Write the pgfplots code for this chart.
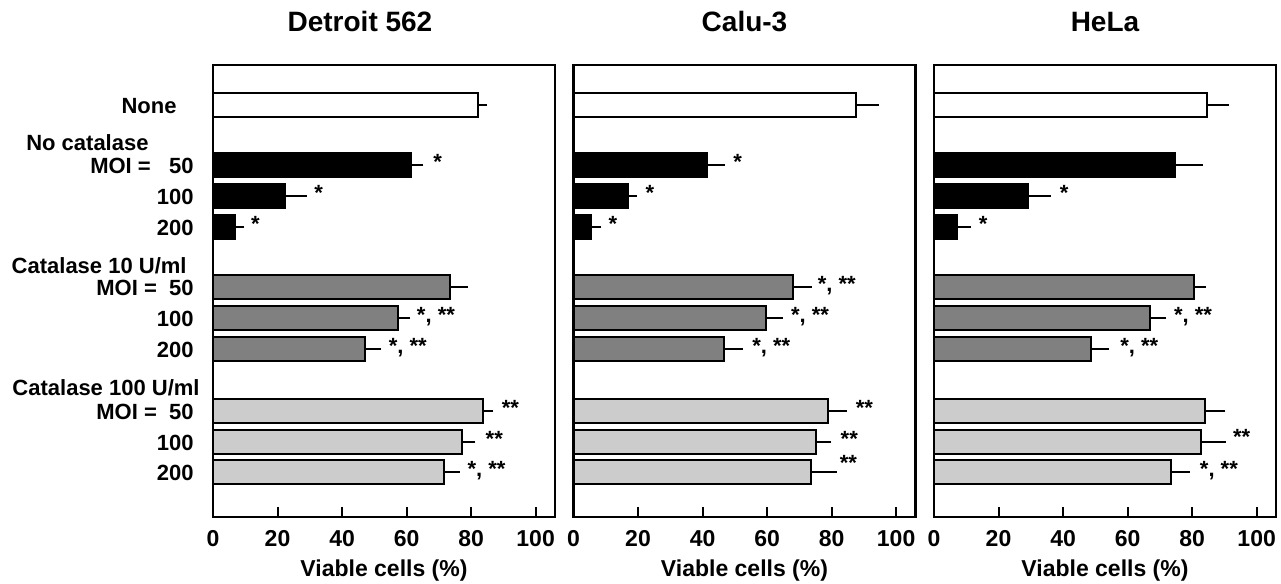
\documentclass[border=0pt]{standalone}
\usepackage{fontspec}
\setmainfont{Liberation Sans}
\usepackage{pgfplots}
\pgfplotsset{compat=1.18}

\definecolor{dkgray}{HTML}{808080}
\definecolor{ltgray}{HTML}{CCCCCC}

\pgfplotsset{
  panel/.style={
    scale only axis, width=171pt, height=226pt,
    anchor=north west,
    bar width=24, bar shift=0pt,
    xmin=0, xmax=106, ymin=65, ymax=517, y dir=reverse,
    axis line style={line width=1.25pt},
    xtick={0,20,...,100}, xtick pos=bottom, tick align=inside,
    major tick length=5pt, xtick style={line width=1pt, black},
    ytick=\empty,
    /pgf/number format/assume math mode=true,
    xticklabel style={font=\bfseries\fontsize{11.5}{13}\selectfont, anchor=base, yshift=-14.5pt, inner sep=0pt},
    xlabel={Viable cells (\%)},
    xlabel style={font=\bfseries\fontsize{11.5}{13}\selectfont, at={(axis description cs:0.5,0)}, anchor=base, yshift=-29.5pt, inner sep=0pt},
    title style={font=\bfseries\fontsize{14}{16}\selectfont, at={(axis description cs:0.5,1)}, anchor=base, yshift=11pt, inner sep=0pt},
    clip=false,
  },
  bar/.style={xbar, draw=black, line width=1pt,
    error bars/x dir=plus, error bars/x explicit, error bars/error mark=none,
    error bars/error bar style={line width=1pt, black}},
  star/.style={only marks, mark=none, nodes near coords, point meta=explicit symbolic,
    every node near coord/.append style={anchor=base west, inner sep=0pt,
      font=\bfseries\fontsize{11}{13}\selectfont}},
}

\begin{document}
\begin{tikzpicture}
\useasboundingbox (0,0) rectangle (640.5pt,-292pt);

% Detroit 562
\begin{axis}[panel, at={(106.5pt,-32.5pt)}, title={Detroit 562},
    title style={xshift=-12pt},
    ytick={105,142,165,196,227,265,287,318,349,387,411,442,472},
    yticklabels={None\hspace*{8.5pt}, No catalase\hspace*{22.5pt}, MOI =\ \ \ 50, 100, 200,
      Catalase 10 U/ml\hspace*{3.5pt}, MOI =\ \ 50, 100, 200,
      Catalase 100 U/ml\hspace*{-3pt}, MOI =\ \ 50, 100, 200},
    ytick style={draw=none},
    yticklabel style={anchor=base east, inner sep=0pt, xshift=-9.5pt, yshift=-4pt,
      font=\bfseries\fontsize{11}{13}\selectfont}]
\addplot[bar, fill=white] coordinates {(82,105) +- (3,0)};
\addplot[bar, fill=black] coordinates {(61.5,165) +- (3.7,0) (22.3,196) +- (6.7,0) (6.7,227) +- (3,0)};
\addplot[bar, fill=dkgray] coordinates {(73.5,287) +- (5.6,0) (57.2,318) +- (4,0) (47.2,349) +- (5,0)};
\addplot[bar, fill=ltgray] coordinates {(83.8,411) +- (3,0) (77.1,442) +- (4.2,0) (71.5,472) +- (5,0)};
\addplot[star] coordinates {(68.2,169) [*] (31.3,200) [*] (11.7,231) [*]
  (63.1,322) [{*, **}] (54.4,353) [{*, **}]
  (89.4,415) [**] (84.4,446) [**] (78.8,476) [{*, **}]};
\end{axis}

% Calu-3
\begin{axis}[panel, at={(286.75pt,-32.5pt)}, title={Calu-3}]
\addplot[bar, fill=white] coordinates {(87.6,105) +- (7,0)};
\addplot[bar, fill=black] coordinates {(41.4,165) +- (5.4,0) (16.8,196) +- (2.8,0) (5.5,227) +- (3,0)};
\addplot[bar, fill=dkgray] coordinates {(68,287) +- (5.8,0) (59.7,318) +- (5.2,0) (46.6,349) +- (5.8,0)};
\addplot[bar, fill=ltgray] coordinates {(78.8,411) +- (6,0) (75.1,442) +- (4.8,0) (73.6,472) +- (8,0)};
\addplot[star] coordinates {(49.4,169) [*] (22.2,200) [*] (10.8,231) [*]
  (75.6,291) [{*, **}] (67.3,322) [{*, **}] (55.3,353) [{*, **}]
  (87.4,415) [**] (82.7,446) [**] (82.4,470) [**]};
\end{axis}

% HeLa
\begin{axis}[panel, at={(467pt,-32.5pt)}, title={HeLa}]
\addplot[bar, fill=white] coordinates {(84.6,105) +- (6.7,0)};
\addplot[bar, fill=black] coordinates {(74.6,165) +- (8.7,0) (29,196) +- (7.2,0) (7.1,227) +- (4.4,0)};
\addplot[bar, fill=dkgray] coordinates {(80.6,287) +- (3.6,0) (66.8,318) +- (5.2,0) (48.7,349) +- (5.6,0)};
\addplot[bar, fill=ltgray] coordinates {(84,411) +- (6.3,0) (82.8,442) +- (7.7,0) (73.4,472) +- (6,0)};
\addplot[star] coordinates {(38.9,200) [*] (13.8,231) [*]
  (74.3,322) [{*, **}] (57.6,353) [{*, **}]
  (92.6,444) [**] (82.3,476) [{*, **}]};
\end{axis}
\end{tikzpicture}
\end{document}
